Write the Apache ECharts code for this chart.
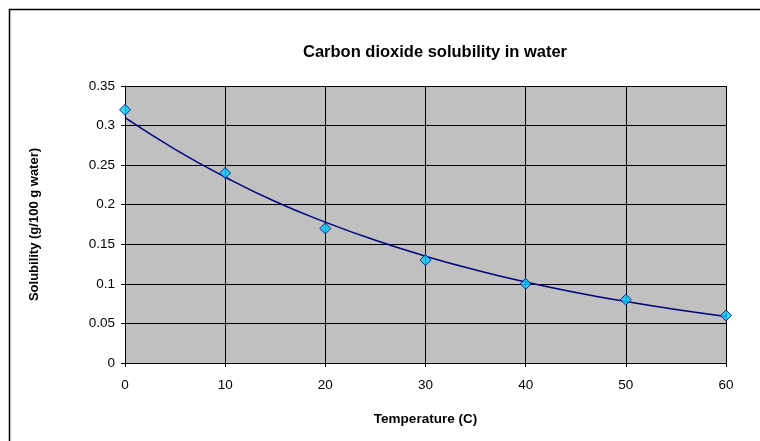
<!DOCTYPE html>
<html><head><meta charset="utf-8">
<script src="https://cdn.jsdelivr.net/npm/echarts@6/dist/echarts.min.js"></script>
<style>html,body{margin:0;padding:0;background:#fff}#c{width:760px;height:441px}</style>
</head><body><div id="c"></div>
<script>
const temperatures = [0, 10, 20, 30, 40, 50, 60];
const solubility = [0.32, 0.24, 0.17, 0.13, 0.10, 0.08, 0.06];
const trendX = [0, 5, 10, 15, 20, 25, 30, 35, 40, 45, 50, 55, 60];
const trendY = [0.310, 0.270, 0.235, 0.204, 0.178, 0.155, 0.135, 0.1175, 0.1023, 0.0891, 0.0776, 0.0675, 0.0588];
const yTicks = [0, 0.05, 0.1, 0.15, 0.2, 0.25, 0.3, 0.35];
const xTicks = [0, 10, 20, 30, 40, 50, 60];

const chart = echarts.init(document.getElementById('c'));
const font = 'Liberation Sans, Arial, sans-serif';
chart.setOption({
  animation: false,
  title: {
    text: 'Carbon dioxide solubility in water',
    left: 430, top: 39, textAlign: 'center',
    textStyle: {fontFamily: font, fontSize: 16.5, fontWeight: 'bold', color: '#000'}
  },
  graphic: [{
    type: 'rect', z: -10,
    shape: {x: 9.5, y: 9.5, width: 800, height: 500},
    style: {fill: 'none', stroke: '#000', lineWidth: 1.5}
  }],
  grid: {left: 125, top: 86, width: 601, height: 277, backgroundColor: '#C0C0C0', show: true, borderColor: '#808080', borderWidth: 0},
  xAxis: {
    type: 'value', min: 0, max: 60, interval: 10,
    name: 'Temperature (C)', nameLocation: 'middle', nameGap: 49,
    nameTextStyle: {fontFamily: font, fontSize: 13.5, fontWeight: 'bold', color: '#000'},
    axisLine: {show: true, onZero: false, lineStyle: {color: '#000', width: 1}},
    axisTick: {show: true, length: 4, lineStyle: {color: '#000'}},
    axisLabel: {fontFamily: font, fontSize: 13.5, color: '#000', margin: 15,
      formatter: v => xTicks.includes(v) ? String(v) : ''},
    splitLine: {show: true, lineStyle: {color: '#000', width: 1}}
  },
  yAxis: {
    type: 'value', min: 0, max: 0.35, interval: 0.05,
    name: 'Solubility (g/100 g water)', nameLocation: 'middle', nameGap: 84,
    nameTextStyle: {fontFamily: font, fontSize: 13, fontWeight: 'bold', color: '#000'},
    axisLine: {show: true, lineStyle: {color: '#000', width: 1}},
    axisTick: {show: true, length: 4, lineStyle: {color: '#000'}},
    axisLabel: {fontFamily: font, fontSize: 13.5, color: '#000', margin: 10,
      formatter: v => { const t = yTicks.find(k => Math.abs(k - v) < 1e-9); return t === undefined ? '' : String(t); }},
    splitLine: {show: true, lineStyle: {color: '#000', width: 1}}
  },
  series: [
    {
      type: 'line', smooth: true, showSymbol: false, symbol: 'none',
      data: trendX.map((x, i) => [x, trendY[i]]),
      lineStyle: {color: '#000080', width: 1.5}, z: 2
    },
    {
      type: 'scatter', symbol: 'diamond', symbolSize: 11,
      data: temperatures.map((x, i) => [x, solubility[i]]),
      itemStyle: {color: '#00CCFF', borderColor: '#000080', borderWidth: 1}, z: 3
    }
  ]
});
</script></body></html>
